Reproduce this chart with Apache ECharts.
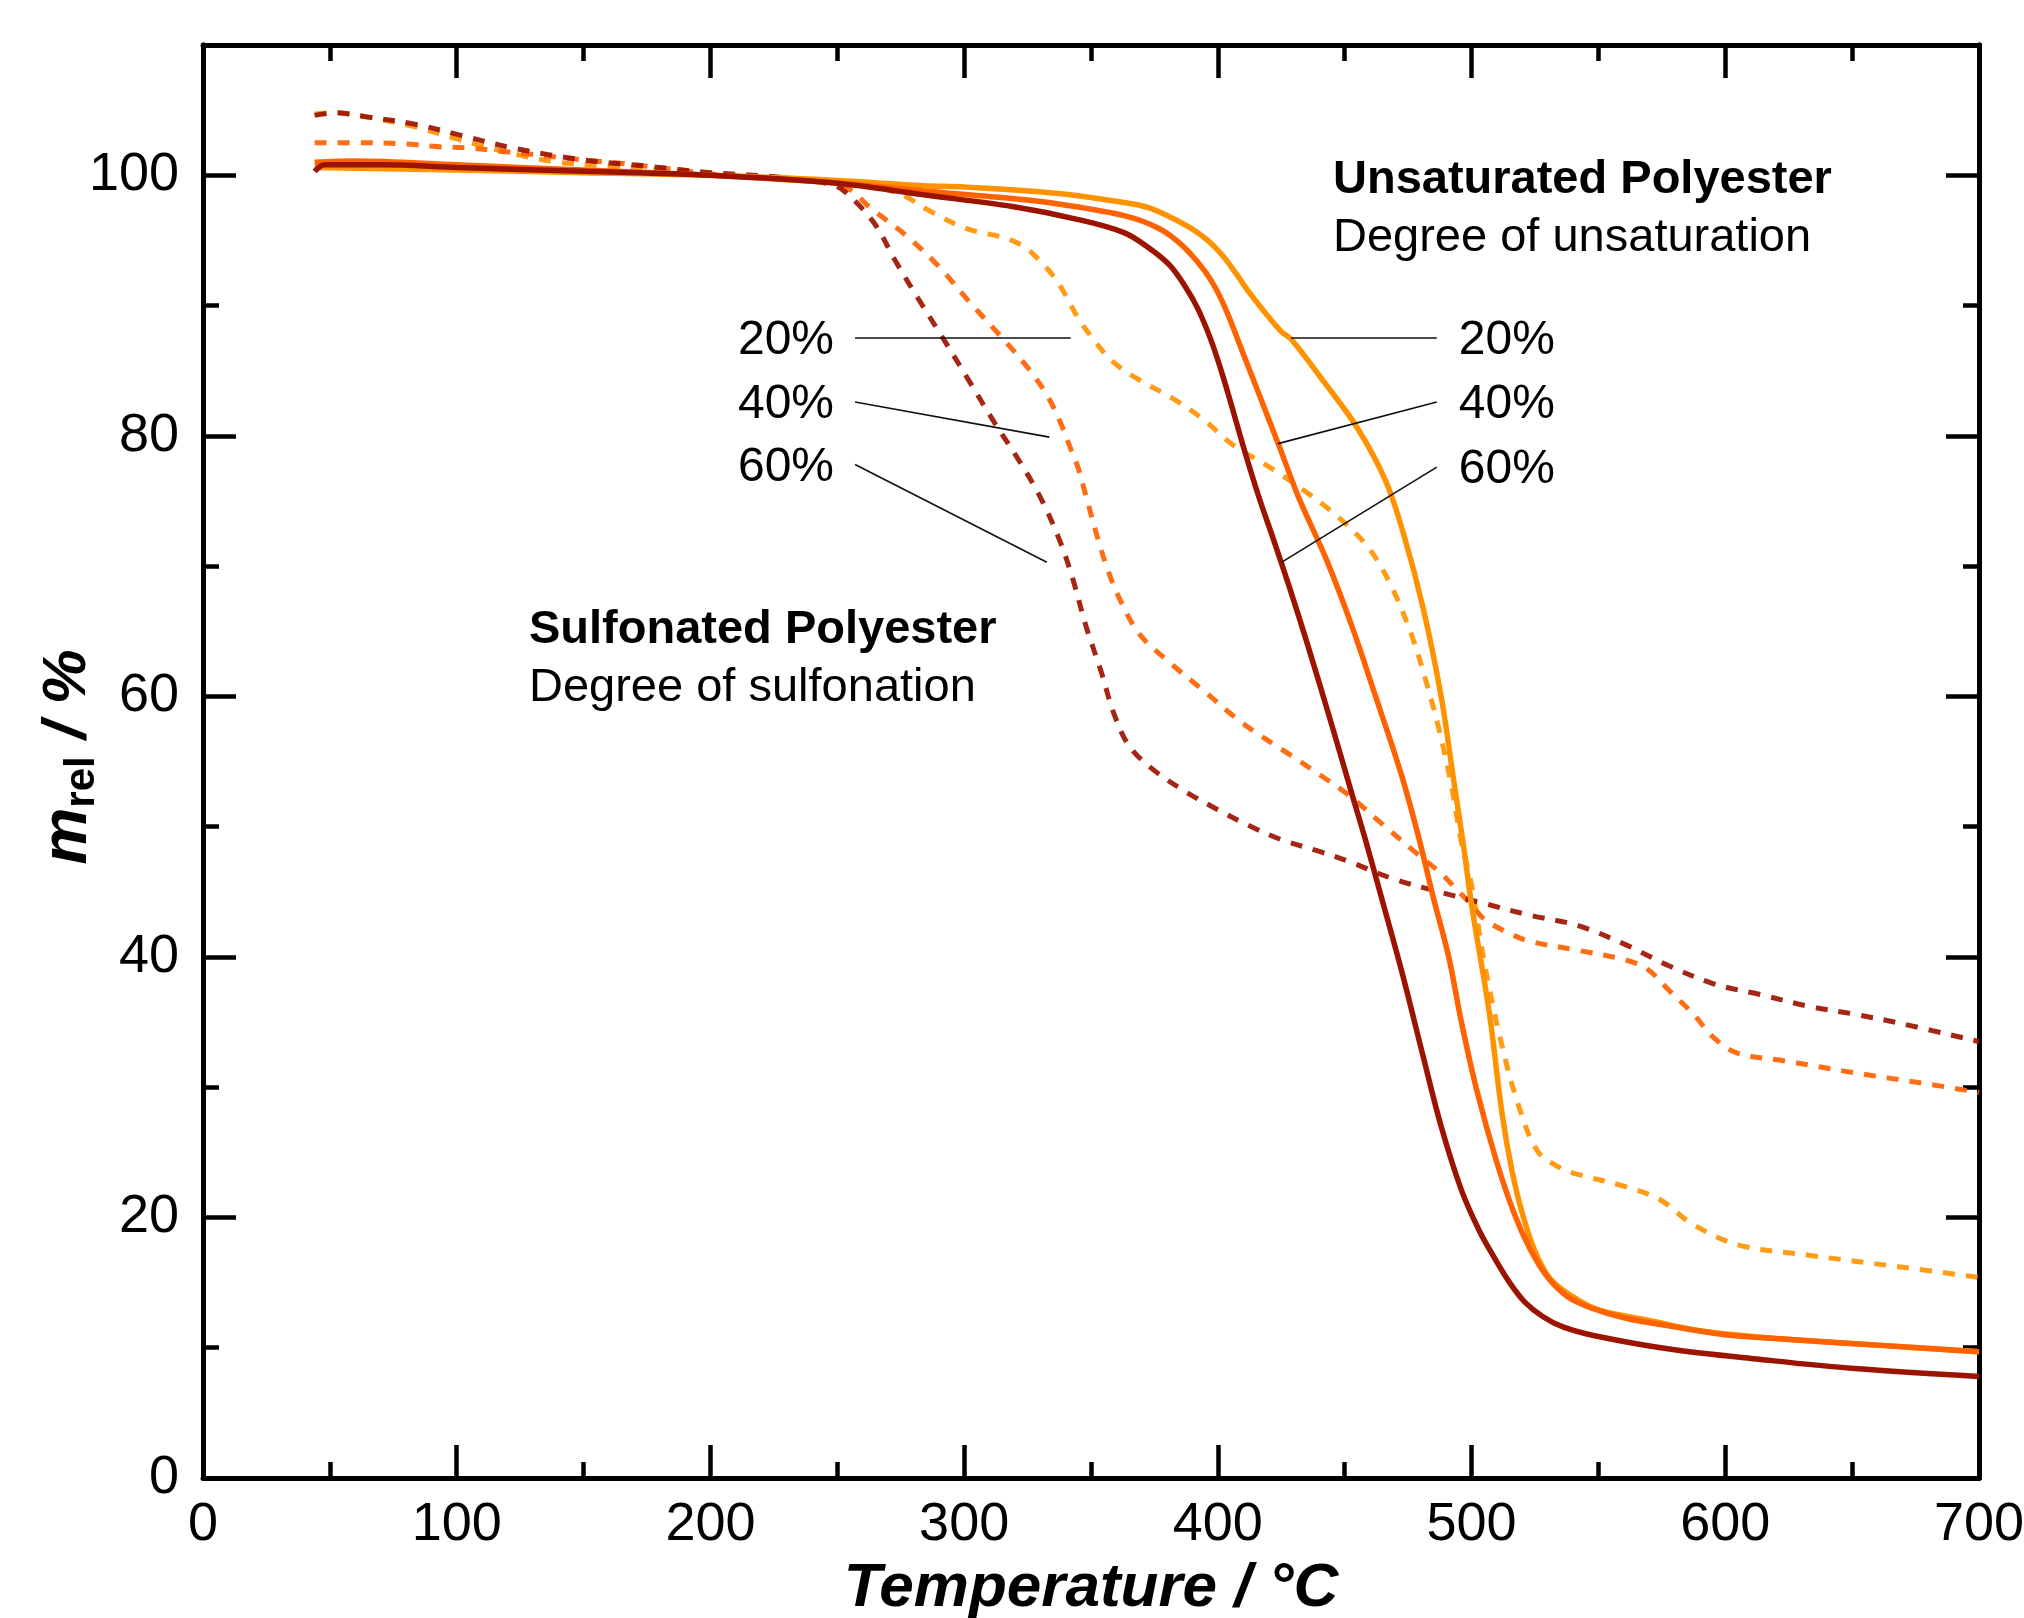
<!DOCTYPE html>
<html>
<head>
<meta charset="utf-8">
<title>TGA polyester</title>
<script src="https://cdn.jsdelivr.net/npm/echarts@6/dist/echarts.min.js"></script>
<style>
  html, body { margin: 0; padding: 0; background: #fff; }
  #main { width: 2024px; height: 1618px; }
</style>
</head>
<body>
<div id="main"></div>
<script>
// [temperature °C, relative mass %]
var unsat20 = [[44,100.6],[100,100.4],[150,100.2],[200,100.0],[250,99.6],[284,99.2],[300,99.1],[337,98.6],[360,98.0],[373,97.5],[388,96.1],[396,95.0],[402,93.8],[407,92.5],[412,91.1],[418,89.6],[425,88.0],[429,87.4],[442,84.1],[455,80.6],[466,76.6],[473,72.6],[481,66.7],[488,60.0],[493,53.5],[497,48.3],[500,44.0],[507,35.7],[512,28.0],[516,23.5],[520,20.3],[525,17.4],[531,15.3],[540,13.9],[550,12.9],[570,12.1],[590,11.3],[620,10.7],[660,10.2],[700,9.7]];
var unsat40 = [[44,101.0],[60,101.1],[100,100.8],[150,100.4],[200,100.0],[250,99.4],[284,98.8],[320,98.2],[337,97.8],[363,96.9],[377,95.9],[386,94.6],[395,92.6],[400,91.0],[404,89.3],[409,86.8],[413,84.8],[417,82.8],[424,79.3],[432,75.2],[443,70.4],[453,65.3],[462,60.1],[472,54.2],[479,49.3],[485,44.5],[491,40.0],[496,35.0],[502,29.8],[510,24.2],[517,20.2],[523,17.6],[530,15.4],[538,13.9],[548,13.0],[560,12.3],[580,11.6],[600,11.0],[620,10.7],[660,10.2],[700,9.7]];
var unsat60 = [[44,100.3],[48,100.8],[70,100.8],[100,100.6],[150,100.3],[200,100.0],[249,99.4],[284,98.5],[319,97.6],[345,96.6],[363,95.6],[373,94.4],[381,93.1],[387,91.5],[392,89.8],[397,87.5],[401,85.2],[405,82.6],[410,79.2],[416,75.4],[422,72.0],[428,68.5],[435,64.2],[444,58.4],[453,52.4],[458,49.1],[465,44.2],[473,38.5],[481,32.3],[488,27.0],[496,22.1],[503,19.0],[509,16.9],[515,15.0],[521,13.5],[528,12.4],[536,11.6],[549,10.9],[578,9.9],[614,9.1],[651,8.4],[700,7.8]];

var sulf20 = [[44,104.7],[52,104.8],[64,104.5],[84,103.7],[100,102.8],[115,102.0],[126,101.5],[140,101.0],[160,100.7],[180,100.4],[200,100.0],[230,99.7],[250,99.4],[273,98.7],[287,97.2],[301,95.9],[316,95.2],[323,94.6],[328,93.8],[335,92.3],[340,90.8],[345,89.0],[351,87.4],[358,85.8],[368,84.4],[382,82.9],[394,81.3],[406,79.3],[422,77.4],[434,75.8],[446,74.0],[459,71.5],[468,68.6],[476,64.9],[482,61.2],[487,57.6],[492,53.2],[496,48.8],[500,45.5],[505,39.6],[511,34.0],[518,28.9],[526,25.1],[535,23.8],[542,23.3],[560,22.4],[574,21.4],[587,19.5],[605,17.9],[633,17.1],[669,16.2],[700,15.4]];
var sulf40 = [[44,102.5],[60,102.5],[80,102.4],[92,102.2],[105,102.1],[115,101.9],[149,101.2],[175,100.7],[200,100.1],[225,99.8],[245,99.5],[255,98.9],[263,97.5],[277,95.4],[290,93.0],[302,90.3],[316,87.3],[326,85.0],[333,83.0],[338,81.0],[342,79.0],[345,77.5],[348,75.4],[353,71.9],[357,69.5],[361,67.6],[369,64.8],[381,62.6],[394,60.5],[410,57.9],[427,55.7],[440,54.0],[451,52.5],[466,50.0],[478,48.0],[488,46.4],[494,45.2],[500,44.0],[505,42.9],[515,41.8],[523,41.2],[542,40.5],[560,39.8],[569,39.1],[578,37.4],[587,35.7],[596,33.7],[605,32.6],[624,32.0],[651,31.1],[678,30.3],[700,29.6]];
var sulf60 = [[44,104.6],[52,104.8],[64,104.5],[84,103.9],[101,103.1],[122,102.1],[149,101.2],[175,100.7],[200,100.2],[230,99.8],[249,99.2],[256,98.2],[265,96.2],[273,93.4],[282,90.5],[291,87.7],[302,84.2],[312,81.0],[321,78.3],[330,75.3],[338,71.8],[343,68.9],[348,65.4],[354,61.9],[359,58.7],[365,56.2],[375,54.3],[388,52.6],[400,51.3],[412,50.1],[425,49.0],[440,48.1],[452,47.3],[469,46.0],[487,45.0],[505,44.1],[523,43.2],[542,42.4],[560,41.0],[578,39.3],[596,37.9],[614,37.1],[633,36.2],[651,35.6],[669,34.9],[700,33.5]];

// leader lines from the percentage labels to the curves
var degreeLabels = ['20%', '40%', '60%'];
var sulfLeaders = [[[257,87.5],[342,87.5]], [[257,82.6],[333.6,79.9]], [[257,77.8],[332.6,70.3]]];
var unsatLeaders = [[[428.8,87.5],[486.3,87.5]], [[423.7,79.4],[486.3,82.6]], [[425.2,70.3],[486.3,77.6]]];

var yLabelValues = [0, 20, 40, 60, 80, 100];

var FONT = '"Liberation Sans", Arial, Helvetica, sans-serif';
var colors = { c20: '#FF9200', c40: '#FF6200', c60: '#9C1300' };

var chart = echarts.init(document.getElementById('main'));

function curve(name, data, color, dashed) {
  return {
    type: 'line',
    name: name,
    data: data,
    xAxisIndex: 0,
    yAxisIndex: 0,
    showSymbol: false,
    symbol: 'none',
    smooth: 0.35,
    silent: true,
    z: dashed ? 2 : 3,
    lineStyle: {
      color: color,
      width: dashed ? 5 : 5.5,
      type: dashed ? [12, 11] : 'solid',
      opacity: dashed ? 0.92 : 1
    }
  };
}

var axisLine = { show: true, onZero: false, lineStyle: { color: '#000', width: 5 } };
var tickStyle = { color: '#000', width: 4.5 };

function xAx(pos) {
  return {
    type: 'value', min: 0, max: 700, interval: 100, position: pos,
    axisLine: axisLine,
    axisTick: { show: true, inside: true, length: 33, lineStyle: tickStyle },
    minorTick: { show: true, splitNumber: 2, length: 16, lineStyle: tickStyle },
    splitLine: { show: false },
    axisLabel: pos === 'bottom'
      ? { show: true, fontSize: 54, color: '#000', margin: 20, fontFamily: FONT }
      : { show: false }
  };
}

function yAx(pos, interval, len, labels) {
  return {
    type: 'value', min: 0, max: 110, interval: interval, position: pos,
    axisLine: axisLine,
    axisTick: { show: true, inside: true, length: len, lineStyle: tickStyle },
    splitLine: { show: false },
    axisLabel: labels ? {
      show: true, fontSize: 54, color: '#000', margin: 24, fontFamily: FONT,
      formatter: function (v) { return yLabelValues.indexOf(v) >= 0 ? String(v) : ''; }
    } : { show: false }
  };
}

var xa = xAx('bottom');
xa.name = 'Temperature / °C';
xa.nameLocation = 'middle';
xa.nameGap = 80;
xa.nameTextStyle = { fontSize: 62, fontWeight: 'bold', fontStyle: 'italic', color: '#000', fontFamily: FONT };

function leaderData(list) {
  return list.map(function (l) { return { coords: l }; });
}

var option = {
  animation: false,
  backgroundColor: '#fff',
  grid: { left: 203, right: 45, top: 45, bottom: 140, containLabel: false, outerBoundsMode: 'none' },
  xAxis: [xa, xAx('top')],
  yAxis: [
    yAx('left', 10, 16, true),
    yAx('left', 20, 33, false),
    yAx('right', 10, 16, false),
    yAx('right', 20, 33, false)
  ],
  series: [
    curve('Sulfonated 20%', sulf20, colors.c20, true),
    curve('Sulfonated 40%', sulf40, colors.c40, true),
    curve('Sulfonated 60%', sulf60, colors.c60, true),
    curve('Unsaturated 20%', unsat20, colors.c20, false),
    curve('Unsaturated 40%', unsat40, colors.c40, false),
    curve('Unsaturated 60%', unsat60, colors.c60, false),
    {
      type: 'lines', coordinateSystem: 'cartesian2d', xAxisIndex: 0, yAxisIndex: 0,
      silent: true, z: 5,
      lineStyle: { color: '#111', width: 1.6, opacity: 1 },
      data: leaderData(sulfLeaders).concat(leaderData(unsatLeaders))
    }
  ]
};
chart.setOption(option);

// texts placed from the leader ends
var graphics = [];
sulfLeaders.forEach(function (l, i) {
  var p = chart.convertToPixel({ gridIndex: 0 }, l[0]);
  graphics.push({ type: 'text', x: p[0] - 21, y: p[1] + 3,
    style: { text: degreeLabels[i], font: '48px ' + FONT, fill: '#000', align: 'right', verticalAlign: 'middle' } });
});
unsatLeaders.forEach(function (l, i) {
  var p = chart.convertToPixel({ gridIndex: 0 }, l[1]);
  graphics.push({ type: 'text', x: p[0] + 22, y: p[1] + 3,
    style: { text: degreeLabels[i], font: '48px ' + FONT, fill: '#000', align: 'left', verticalAlign: 'middle' } });
});
graphics.push(
  { type: 'text', x: 1333, y: 180, style: { text: 'Unsaturated Polyester', font: 'bold 47px ' + FONT, fill: '#000', verticalAlign: 'middle' } },
  { type: 'text', x: 1333, y: 238, style: { text: 'Degree of unsaturation', font: '47px ' + FONT, fill: '#000', verticalAlign: 'middle' } },
  { type: 'text', x: 529, y: 630, style: { text: 'Sulfonated Polyester', font: 'bold 47px ' + FONT, fill: '#000', verticalAlign: 'middle' } },
  { type: 'text', x: 529, y: 688, style: { text: 'Degree of sulfonation', font: '47px ' + FONT, fill: '#000', verticalAlign: 'middle' } },
  {
    type: 'text', x: 68, y: 757, rotation: Math.PI / 2,
    style: {
      text: '{m|m}{s|rel}{t| / %}',
      align: 'center', verticalAlign: 'middle',
      rich: {
        m: { fontSize: 64, fontWeight: 'bold', fontStyle: 'italic', fontFamily: FONT, fill: '#000', lineHeight: 70 },
        s: { fontSize: 42, fontWeight: 'bold', fontFamily: FONT, fill: '#000', lineHeight: 34, verticalAlign: 'bottom' },
        t: { fontSize: 62, fontWeight: 'bold', fontStyle: 'italic', fontFamily: FONT, fill: '#000', lineHeight: 70 }
      }
    }
  }
);
chart.setOption({ graphic: graphics });
</script>
</body>
</html>
